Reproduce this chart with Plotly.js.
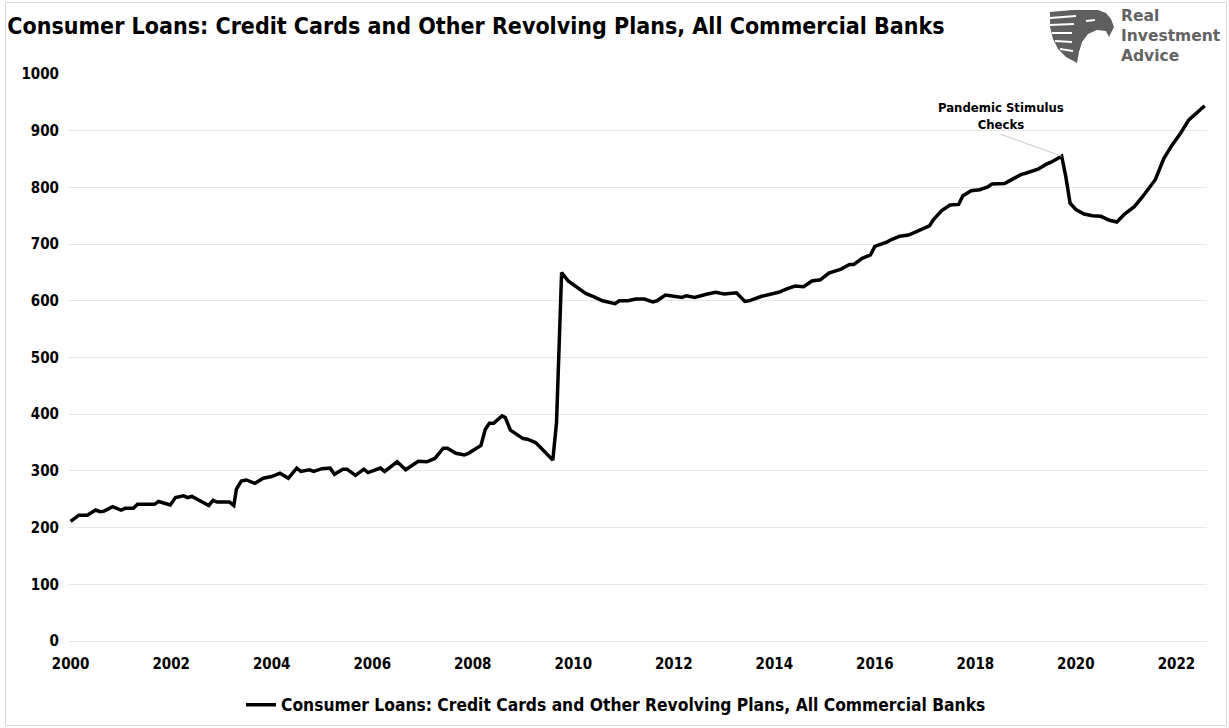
<!DOCTYPE html>
<html>
<head>
<meta charset="utf-8">
<script src="https://cdn.plot.ly/plotly-3.0.1.min.js"></script>
<style>
  html, body { margin: 0; padding: 0; background: #ffffff; }
  #wrap { position: relative; width: 1229px; height: 728px; }
  #chart { width: 1229px; height: 728px; }
  #frame { position: absolute; left: 5px; top: 2px; width: 1220px; height: 722px;
           border: 1px solid #d9d9d9; pointer-events: none; }
</style>
</head>
<body>
<div id="wrap">
  <div id="chart"></div>
  <div id="frame"></div>
</div>
<script>
// ---- data ----
const seriesName = "Consumer Loans: Credit Cards and Other Revolving Plans, All Commercial Banks";
const dates = [
  "2000-01-01","2000-03","2000-05","2000-07","2000-08","2000-09","2000-11",
  "2001-01","2001-02","2001-04","2001-05","2001-09","2001-10","2001-12-25",
  "2002-02","2002-04","2002-05","2002-06","2002-08","2002-10","2002-11","2002-12",
  "2003-03","2003-04-01","2003-04-20","2003-05-25","2003-07","2003-09","2003-11",
  "2004-01","2004-03","2004-05","2004-07","2004-08","2004-10","2004-11",
  "2005-01","2005-03","2005-04","2005-06","2005-07","2005-09","2005-11","2005-12",
  "2006-03","2006-04","2006-07","2006-09","2006-12",
  "2007-02","2007-04","2007-06","2007-07","2007-09","2007-11","2007-12",
  "2008-03","2008-04","2008-05","2008-06","2008-08","2008-08-25","2008-10","2008-12",
  "2009-01","2009-02","2009-04","2009-05","2009-07","2009-08-05","2009-09-01","2009-10-08","2009-11-25",
  "2010-01-25","2010-04","2010-06","2010-08","2010-11","2010-12",
  "2011-02","2011-04","2011-06","2011-08","2011-09","2011-11",
  "2012-01","2012-03","2012-04","2012-06","2012-09","2012-11",
  "2013-01","2013-04","2013-06","2013-07","2013-10","2013-12",
  "2014-02","2014-04","2014-06","2014-08","2014-10","2014-12",
  "2015-02","2015-05","2015-07","2015-08","2015-10","2015-12",
  "2016-01","2016-04","2016-05","2016-07","2016-09","2016-10","2016-12",
  "2017-02","2017-03","2017-05","2017-07","2017-09","2017-10","2017-12",
  "2018-02","2018-04","2018-05","2018-08","2018-10","2018-12",
  "2019-01","2019-04","2019-06","2019-07","2019-09-20","2019-10-20","2019-11-20",
  "2020-01-01","2020-03","2020-05","2020-07","2020-08","2020-09","2020-10-25","2020-12-20",
  "2021-03","2021-05","2021-08","2021-10","2021-12",
  "2022-02","2022-04","2022-07-25"
];
const loans = [
  211,222,222,231,228,229,237,
  231,234,234,241,241,246,240,
  253,256,253,255,247,239,248,245,
  245,239,268,282,284,278,287,
  290,296,287,305,299,302,299,
  304,305,294,303,303,292,303,297,
  305,299,316,302,317,
  316,322,340,340,331,328,331,
  345,373,384,384,397,394,372,363,
  357,356,350,343,328,319,385,650,635,
  625,613,607,600,595,600,
  600,603,603,598,600,610,
  608,606,609,606,612,615,
  612,614,599,600,608,612,
  615,621,626,625,635,637,
  649,656,664,664,675,681,
  696,704,708,714,716,719,726,
  732,743,759,769,770,785,794,
  796,801,806,807,815,823,
  825,832,841,844,855,819,772,
  761,753,750,749,745,742,739,753,
  766,784,814,851,875,
  896,919,944
];
const tickYears = ["2000","2002","2004","2006","2008","2010","2012","2014","2016","2018","2020","2022"];
const yTicks = [0,100,200,300,400,500,600,700,800,900,1000];
const annotationText = "Pandemic Stimulus<br>Checks";
const annotationDate = "2019-09-20";
const annotationValue = 855;
const logoText = "Real<br>Investment<br>Advice";

// ---- layout helpers ----
const W = 1229, H = 728;
const M = {l: 68, r: 22, t: 74, b: 87};
const PW = W - M.l - M.r, PH = H - M.t - M.b;
const px = x => (x - M.l) / PW;           // pixel x -> paper x
const py = y => (H - M.b - y) / PH;        // pixel y -> paper y
const pathFrom = pts => pts.map((p, i) => (i ? "L" : "M") + px(p[0]).toFixed(4) + "," + py(p[1]).toFixed(4)).join(" ") + " Z";

const boldFont = "'Liberation Sans Narrow', 'DejaVu Sans Condensed', 'Open Sans', sans-serif";

const trace = {
  x: dates, y: loans, type: "scatter", mode: "lines", name: seriesName,
  line: {color: "#000000", width: 3.5, shape: "linear"},
  hoverinfo: "x+y"
};

// eagle-ish logo mark (decorative)
const headPts = [[1050,12],[1072,10],[1098,10],[1106,13],[1111,19],[1114,27],[1109,37],[1106,31],[1097,30],
                 [1088,34],[1082,42],[1079,52],[1077,63],[1066,57],[1058,49],[1053,39],[1050,27]];
const shapes = [
  {type: "path", xref: "paper", yref: "paper", path: pathFrom(headPts),
   fillcolor: "#5f5f5f", line: {width: 0}, layer: "above"},
  ...[[1050,18,1076,16],[1050,25,1074,24],[1052,33,1072,33],[1055,41,1072,42],[1060,49,1073,51]].map(s => ({
    type: "line", xref: "paper", yref: "paper",
    x0: px(s[0]), y0: py(s[1]), x1: px(s[2]), y1: py(s[3]),
    line: {color: "#ffffff", width: 2}, layer: "above"})),
  {type: "line", xref: "paper", yref: "paper", x0: px(1086), y0: py(21), x1: px(1095), y1: py(20),
   line: {color: "#ffffff", width: 2}, layer: "above"}
];

const annotations = [
  {x: annotationDate, y: annotationValue, xref: "x", yref: "y", text: annotationText,
   showarrow: true, arrowhead: 0, arrowwidth: 1, arrowcolor: "#c8c8c8", ax: -61, ay: -22,
   xanchor: "center", yanchor: "bottom", align: "center",
   font: {family: boldFont, size: 13, color: "#000000", weight: "bold"}},
  {xref: "paper", yref: "paper", x: px(1119), y: py(36), xanchor: "left", yanchor: "middle",
   text: logoText, showarrow: false, align: "left",
   font: {family: "'DejaVu Sans', sans-serif", size: 15.5, color: "#636363", weight: "bold"}}
];

const layout = {
  width: W, height: H,
  margin: {l: M.l, r: M.r, t: M.t, b: M.b, pad: 0, autoexpand: false},
  paper_bgcolor: "#ffffff", plot_bgcolor: "#ffffff",
  title: {text: "Consumer Loans: Credit Cards and Other Revolving Plans, All Commercial Banks",
          x: 0.006, xref: "container", xanchor: "left", y: 0.964, yref: "container", yanchor: "middle",
          font: {family: boldFont, size: 23, color: "#000000", weight: "bold"}},
  xaxis: {type: "date", range: ["1999-12-13", "2022-08-11"], automargin: false,
          tickvals: tickYears.map(y => y + "-01-01"), ticktext: tickYears,
          showgrid: false, zeroline: false, showline: false, ticks: "",
          ticklabelstandoff: 12,
          tickfont: {family: boldFont, size: 15, color: "#000000", weight: "bold"}},
  yaxis: {range: [0, 1000], tickvals: yTicks, ticktext: yTicks.map(String), automargin: false,
          showgrid: true, gridcolor: "#e6e6e6", gridwidth: 1,
          zeroline: true, zerolinecolor: "#e6e6e6", zerolinewidth: 1,
          showline: false, ticks: "", ticklabelstandoff: 8,
          tickfont: {family: boldFont, size: 15, color: "#000000", weight: "bold"}},
  showlegend: true,
  legend: {orientation: "h", x: px(616), xanchor: "center", y: py(705), yanchor: "middle",
           font: {family: boldFont, size: 17.3, color: "#000000", weight: "bold"},
           bgcolor: "rgba(0,0,0,0)"},
  shapes: shapes,
  annotations: annotations
};

Plotly.newPlot("chart", [trace], layout, {displayModeBar: false, staticPlot: true});
</script>
</body>
</html>
